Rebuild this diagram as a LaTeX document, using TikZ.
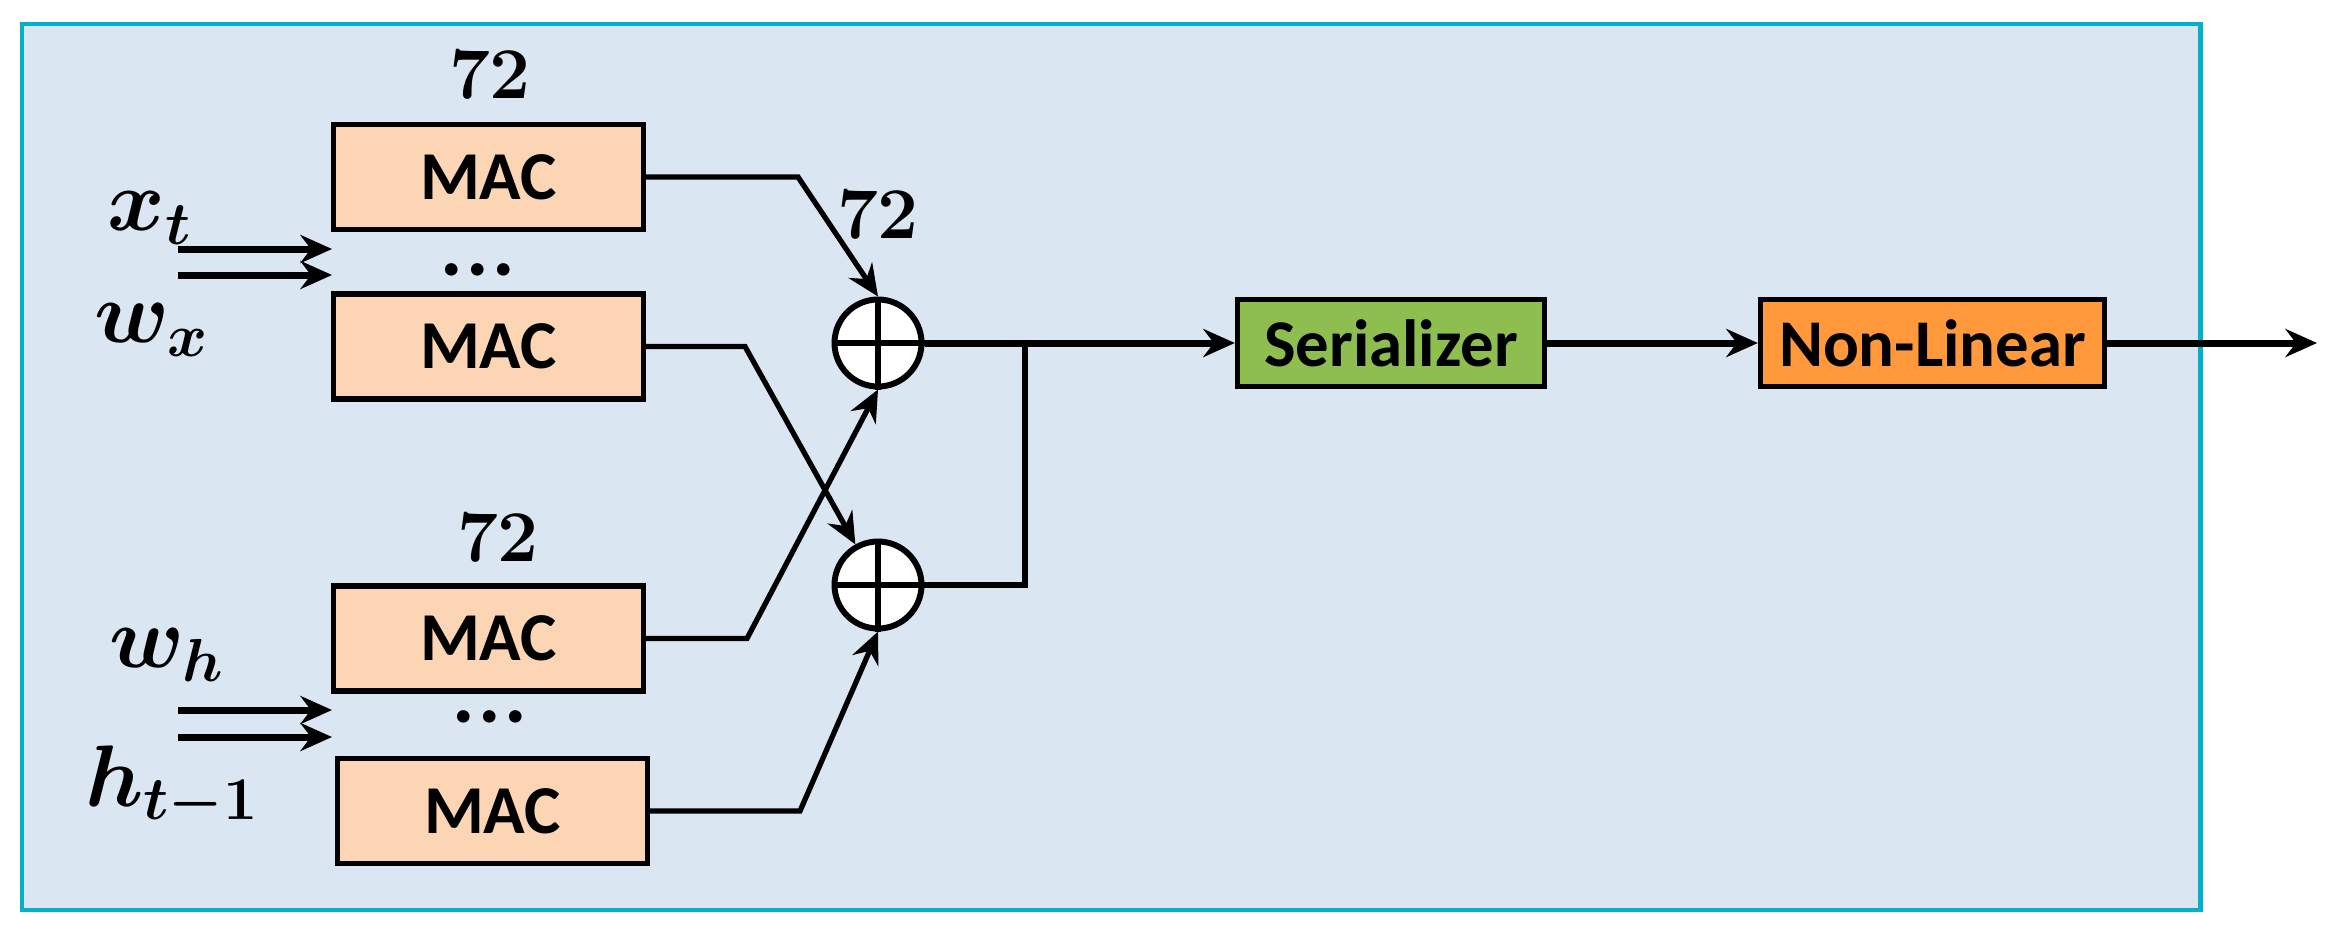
\documentclass[tikz,border=0pt]{standalone}
\usepackage[no-math]{fontspec}
\setmainfont{Carlito}
\usepackage{bm}
\usetikzlibrary{arrows.meta}
\definecolor{bgblue}{RGB}{218,230,242}
\definecolor{framecyan}{RGB}{0,176,204}
\definecolor{macpeach}{RGB}{252,213,181}
\definecolor{sergreen}{RGB}{143,190,80}
\definecolor{nlorange}{RGB}{255,153,60}
\tikzset{
	tip/.style={-{Stealth[length=9pt,width=8pt,inset=3pt]}},
	macbox/.style={draw=black, line width=1.5pt, fill=macpeach, minimum width=3.1cm, minimum height=1.05cm, font=\fontsize{19.5}{22}\selectfont\bfseries},
	stagebox/.style={draw=black, line width=1.5pt, minimum height=0.87cm, font=\fontsize{19}{22}\selectfont\bfseries},
	adder/.style={circle, draw=black, line width=1.7pt, fill=white, minimum size=0.87cm, inner sep=0pt},
	wire/.style={line width=1.5pt},
	conn/.style={wire, tip},
	mainline/.style={line width=2pt, tip},
	numlbl/.style={font=\fontsize{20}{22}\selectfont},
	varlbl/.style={font=\fontsize{24}{28}\selectfont},
	dotlbl/.style={inner sep=0pt, font=\fontsize{24}{26}\selectfont\bfseries},
}

\begin{document}
\begin{tikzpicture}
		%%%%% START %%%%%
		\useasboundingbox (0,0) rectangle (23.42,-9.43);
		\draw[line width=1.4pt, draw=framecyan, fill=bgblue] (0.22,-0.24) rectangle (22.00,-9.10);
		
		\node[macbox] (mac1) at (4.885,-1.77) {MAC};
		\node[macbox] (mac2) at (4.885,-3.465) {MAC};
		\node[macbox] (mac3) at (4.885,-6.385) {MAC};
		\node[macbox] (mac4) at (4.925,-8.11) {MAC};
		
		\node[numlbl] (n1) at (4.90,-0.75) {$\mathbf{72}$};
		\node[numlbl] (n2) at (8.78,-2.15) {$\mathbf{72}$};
		\node[numlbl] (n3) at (4.98,-5.38) {$\mathbf{72}$};
		\node[dotlbl] (d1) at (4.78,-2.70) {.\hspace{1pt}.\hspace{1pt}.};
		\node[dotlbl] (d2) at (4.90,-7.17) {.\hspace{1pt}.\hspace{1pt}.};
		
		\node[varlbl] (xt) at (1.50,-2.18) {$\bm{x_t}$};
		\node[varlbl] (wx) at (1.52,-3.30) {$\bm{w_x}$};
		\node[varlbl] (wh) at (1.67,-6.55) {$\bm{w_h}$};
		\node[varlbl] (ht) at (1.72,-7.87) {$\bm{h_{t-1}}$};
		
		% input pairs
		\coordinate (xa) at (1.78,-2.49);
		\coordinate (xb) at (1.78,-2.75);
		\coordinate (ha) at (1.78,-7.10);
		\coordinate (hb) at (1.78,-7.37);
		\draw[mainline] (xa) -- (3.32,-2.49);
		\draw[mainline] (xb) -- (3.32,-2.75);
		\draw[mainline] (ha) -- (3.32,-7.10);
		\draw[mainline] (hb) -- (3.32,-7.37);
		
		\node[adder] (add1) at (8.78,-3.43) {};
		\node[adder] (add2) at (8.78,-5.85) {};
		
		\coordinate (b1) at (7.98,-1.77);
		\coordinate (b2) at (7.45,-3.465);
		\coordinate (b3) at (7.47,-6.385);
		\coordinate (b4) at (8.00,-8.11);
		\draw[conn] (mac1.east) -- (b1) -- (add1.north);
		\draw[conn] (mac2.east) -- (b2) -- (add2);
		\draw[conn] (mac3.east) -- (b3) -- (add1.south);
		\draw[conn] (mac4.east) -- (b4) -- (add2.south);
		
		\draw[wire] (add1.north) -- (add1.south) (add1.west) -- (add1.east);
		\draw[wire] (add2.north) -- (add2.south) (add2.west) -- (add2.east);
		
		\node[stagebox, fill=sergreen, minimum width=3.07cm] (ser) at (13.91,-3.43) {Serializer};
		\node[stagebox, fill=nlorange, minimum width=3.44cm] (nonlin) at (19.325,-3.43) {Non-Linear};
		
		\coordinate (j1) at (10.25,-3.43);
		\coordinate (j2) at (10.25,-5.85);
		\coordinate (out) at (23.17,-3.43);
		\draw[mainline] (add1.east) -- (ser.west);
		\draw[wire] (add2.east) -- (j2) -- (j1);
		\draw[mainline] (ser.east) -- (nonlin.west);
		\draw[mainline] (nonlin.east) -- (out);
		
		%%%%% END %%%%%
	\end{tikzpicture}
\end{document}
